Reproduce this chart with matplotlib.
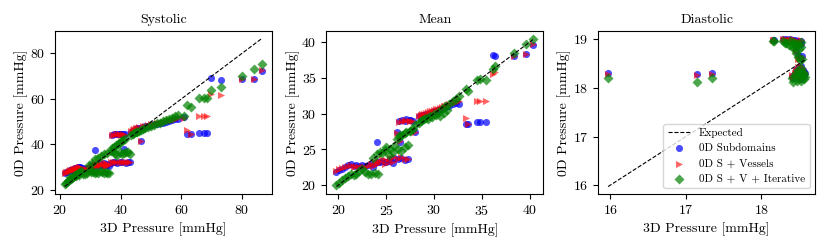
import matplotlib
matplotlib.use("Agg")
import matplotlib.pyplot as plt

plt.rcParams['font.family'] = ['cmr10', 'DejaVu Serif']
plt.rcParams['axes.formatter.use_mathtext'] = True
plt.rcParams['font.size'] = 10

#systolic: 3D pressure and the three 0D models
sys_3d = [21.5, 22, 22.5, 23, 23.5, 24, 24.5, 25, 25.5, 26, 26.5, 27,
          23.2, 24.2, 25.2, 26.2, 27.5, 28.3, 29.0, 29.8,
          30.2, 30.8, 31.4, 32.0, 32.6, 33.2, 33.8, 34.4, 35.0, 35.6, 36.2,
          29.5, 30.5, 31.5, 32.5, 33.5, 34.5, 35.5,
          36.8, 37.5, 38.2, 38.9, 39.6, 40.3, 41.0, 41.7, 42.4, 43.0,
          37.2, 37.8, 38.4, 39.0, 39.6, 40.2, 40.8, 41.3,
          43.5, 44.0, 44.5, 45.0, 45.5, 46.0, 46.6, 47.2, 48.0, 49.0, 50.0,
          51.0, 52.0, 53.0, 54.0, 55.0, 56.0, 57.0, 58.0, 59.0,
          60.8, 61.9, 63.0, 65.8, 67.4, 68.3, 69.7, 73.2, 80.0, 84.0, 86.5]
sys_sub = [27.6, 27.8, 28.0, 28.3, 28.6, 28.9, 29.2, 29.5, 29.7, 29.9, 30.0, 29.8,
           28.8, 29.3, 29.8, 30.1, 29.5, 29.3, 29.6, 29.8,
           30.5, 30.8, 31.0, 30.2, 31.5, 30.5, 31.0, 31.8, 30.8, 31.2, 30.6,
           29.7, 30.2, 37.6, 30.8, 31.3, 30.5, 31.0,
           32.0, 32.1, 32.2, 32.0, 32.3, 32.1, 38.0, 32.0, 32.2, 32.1,
           44.3, 44.6, 44.8, 44.7, 44.8, 44.6, 44.7, 44.5,
           45.5, 46.0, 46.5, 46.8, 47.0, 47.3, 41.5, 47.8, 48.0, 48.3, 48.5,
           48.8, 49.0, 49.3, 49.6, 50.0, 50.3, 50.6, 51.0, 51.3,
           52.0, 44.8, 44.6, 45.0, 45.0, 45.0, 69.0, 68.5, 68.7, 68.8, 72.4]
sys_ves = [27.4, 27.7, 27.9, 28.2, 28.5, 28.8, 29.1, 29.4, 29.6, 29.8, 29.9, 29.6,
           28.6, 29.1, 29.6, 29.9, 29.3, 29.1, 29.4, 29.6,
           30.3, 30.6, 31.2, 30.5, 31.8, 30.8, 31.4, 32.2, 31.0, 31.5, 30.9,
           29.5, 30.0, 31.0, 30.6, 31.0, 30.3, 30.8,
           32.2, 32.3, 32.4, 32.2, 32.5, 32.3, 32.4, 32.2, 32.4, 32.3,
           44.0, 44.3, 44.5, 44.4, 44.5, 44.3, 44.4, 44.2,
           45.8, 46.3, 46.8, 47.1, 47.3, 47.6, 41.3, 48.1, 48.3, 48.6, 48.8,
           49.1, 49.3, 49.6, 49.9, 50.3, 50.6, 50.9, 51.3, 51.6,
           51.5, 46.2, 44.6, 52.4, 52.4, 52.3, 62.2, 61.8, 68.9, 68.8, 72.6]
sys_iter = [22.6, 23.2, 23.8, 24.3, 24.9, 25.4, 26.0, 26.5, 26.9, 27.3, 27.7, 28.2,
            25.6, 25.9, 26.3, 26.6, 26.8, 27.0, 27.5, 28.6,
            27.8, 28.0, 27.6, 27.9, 27.4, 28.2, 27.7, 27.5, 27.9, 27.3, 27.6,
            30.8, 32.0, 33.6, 34.2, 35.0, 35.9, 36.4,
            37.2, 37.0, 36.0, 35.5, 36.5, 35.8, 36.2, 36.8, 36.5, 36.0,
            38.5, 39.0, 39.8, 40.2, 40.8, 41.3, 41.8, 42.3,
            44.0, 44.5, 45.0, 45.6, 45.3, 46.0, 46.4, 46.8, 47.3, 47.5, 48.0,
            48.6, 49.2, 49.6, 50.1, 50.6, 51.2, 51.8, 52.3, 52.8,
            52.3, 57.4, 56.5, 60.4, 60.6, 60.5, 64.0, 65.2, 70.1, 73.1, 75.2]

#mean
mean_3d = [19.8, 20.1, 20.4, 20.7, 21.0, 21.3,
           21.6, 21.9, 22.2, 22.5, 22.8, 23.1,
           23.4, 23.8, 24.2, 24.6, 25.0, 25.4, 25.8, 26.2, 26.6, 27.0, 27.3,
           23.6, 24.0, 24.4, 24.9, 25.3, 25.7, 26.1, 26.5, 27.0, 27.5,
           26.3, 26.7, 27.1, 27.5, 27.8,
           28.0, 28.4, 28.8, 29.2, 29.6, 30.0, 30.4, 30.8, 31.2, 31.6, 32.0, 32.3, 32.6,
           28.6, 29.0, 29.4, 29.8, 30.2, 30.6, 31.0, 31.4,
           33.3, 33.6, 34.5, 34.8, 35.4, 36.2, 36.4, 38.4, 39.6, 40.4]
mean_sub = [21.9, 22.1, 22.3, 22.5, 22.8, 22.9,
            22.7, 22.8, 22.7, 22.8, 22.7, 22.8,
            22.9, 23.1, 23.3, 23.4, 23.3, 23.6, 23.8, 23.6, 23.8, 23.5, 23.6,
            22.6, 26.0, 23.2, 23.2, 23.4, 23.1, 27.4, 26.1, 29.0, 29.1,
            28.9, 29.1, 29.2, 29.1, 29.0,
            27.5, 29.6, 29.8, 29.9, 30.1, 30.3, 30.5, 30.7, 30.9, 31.1, 31.3, 31.5, 31.4,
            29.6, 29.8, 30.0, 30.2, 30.4, 30.6, 30.8, 31.0,
            28.6, 28.6, 28.8, 28.8, 28.8, 38.2, 38.0, 38.1, 38.3, 39.6]
mean_ves = [22.0, 22.2, 22.4, 22.6, 22.7, 22.8,
            22.6, 22.7, 22.6, 22.7, 22.6, 22.7,
            23.0, 23.2, 23.4, 23.6, 23.5, 23.8, 23.9, 23.7, 23.9, 23.6, 23.7,
            22.7, 23.0, 23.2, 23.0, 23.2, 23.3, 27.3, 26.2, 28.9, 29.0,
            28.8, 29.0, 29.1, 29.0, 28.9,
            27.5, 29.7, 29.9, 30.1, 30.3, 30.5, 30.7, 30.9, 31.1, 31.3, 31.5, 31.6, 31.8,
            29.8, 30.0, 30.2, 30.4, 30.6, 30.8, 31.0, 31.2,
            29.4, 28.6, 31.7, 31.7, 31.7, 35.6, 35.8, 38.1, 38.3, 39.7]
mean_iter = [20.0, 20.3, 20.7, 21.0, 21.3, 21.6,
             21.4, 21.6, 22.0, 22.3, 21.8, 21.6,
             21.6, 21.7, 21.5, 24.5, 25.3, 25.0, 25.5, 25.0, 24.8, 25.4, 25.6,
             23.8, 24.3, 24.7, 24.9, 24.2, 24.6, 26.5, 27.0, 27.3, 27.6,
             26.8, 27.0, 27.4, 27.6, 27.8,
             28.4, 28.7, 29.1, 29.4, 29.6, 29.9, 30.2, 30.6, 31.0, 31.4, 31.8, 32.1, 32.4,
             28.9, 29.2, 29.3, 29.5, 29.8, 29.6, 30.1, 30.5,
             33.5, 33.2, 34.7, 34.8, 34.7, 36.3, 36.6, 38.5, 39.7, 40.5]

#diastolic
dia_3d = [15.97, 17.15, 17.34, 18.15, 18.17, 18.29, 18.31,
          18.33, 18.36, 18.38, 18.40, 18.42, 18.43, 18.45, 18.46, 18.48, 18.50, 18.52, 18.53,
          18.46, 18.49, 18.51, 18.54,
          18.40, 18.42, 18.44, 18.46, 18.47, 18.49, 18.50, 18.51, 18.52, 18.53,
          18.54, 18.55, 18.56, 18.57, 18.58]
dia_sub = [18.30, 18.28, 18.30, 18.99, 18.98, 19.01, 18.99,
           19.00, 18.98, 19.01, 18.97, 18.99, 18.95, 18.98, 18.94, 18.96, 18.92, 18.97, 18.90,
           18.78, 18.68, 18.62, 18.66,
           18.25, 18.20, 18.30, 18.38, 18.22, 18.42, 18.28, 18.35, 18.18, 18.45,
           18.30, 18.38, 18.24, 18.33, 18.30]
dia_ves = [18.29, 18.27, 18.29, 18.99, 18.98, 19.02, 19.00,
           19.01, 18.99, 19.02, 18.98, 19.00, 18.96, 18.99, 18.95, 18.97, 18.93, 18.98, 18.91,
           18.76, 18.60, 18.60, 18.64,
           18.27, 18.21, 18.31, 18.38, 18.22, 18.43, 18.29, 18.36, 18.19, 18.46,
           18.31, 18.39, 18.25, 18.34, 18.32]
dia_iter = [18.20, 18.13, 18.20, 18.97, 18.96, 18.96, 18.93,
            18.93, 18.88, 18.97, 18.84, 18.95, 18.82, 18.92, 18.86, 18.90, 18.80, 18.94, 18.85,
            18.72, 18.64, 18.58, 18.60,
            18.20, 18.13, 18.24, 18.32, 18.15, 18.38, 18.22, 18.30, 18.14, 18.42,
            18.26, 18.33, 18.18, 18.28, 18.22]

titles = ["Systolic", "Mean", "Diastolic"]
panels = [(sys_3d, sys_sub, sys_ves, sys_iter),
          (mean_3d, mean_sub, mean_ves, mean_iter),
          (dia_3d, dia_sub, dia_ves, dia_iter)]

fig, axs = plt.subplots(1, 3, figsize=(8.3, 2.49), dpi=100)
fig.subplots_adjust(left=0.066, right=0.982, bottom=0.221, top=0.875, wspace=0.253)

for ax, title, (x, y_sub, y_ves, y_iter) in zip(axs, titles, panels):
    lo, hi = min(x), max(x)
    ax.plot([lo, hi], [lo, hi], 'k--', linewidth=0.8, label="Expected")
    ax.scatter(x, y_sub, s=26, c='b', marker='o', alpha=0.7, linewidths=0, label="0D Subdomains")
    ax.scatter(x, y_ves, s=26, c='r', marker='>', alpha=0.6, linewidths=0, label="0D S + Vessels")
    ax.scatter(x, y_iter, s=26, c='g', marker='D', alpha=0.7, linewidths=0, label="0D S + V + Iterative")
    ax.set_title(title, fontsize=10)
    ax.set_xlabel("3D Pressure [mmHg]")
    ax.set_ylabel("0D Pressure [mmHg]", labelpad=1)

axs[2].legend(loc='lower right', fontsize=8)
fig.savefig("out.png", dpi=100)
